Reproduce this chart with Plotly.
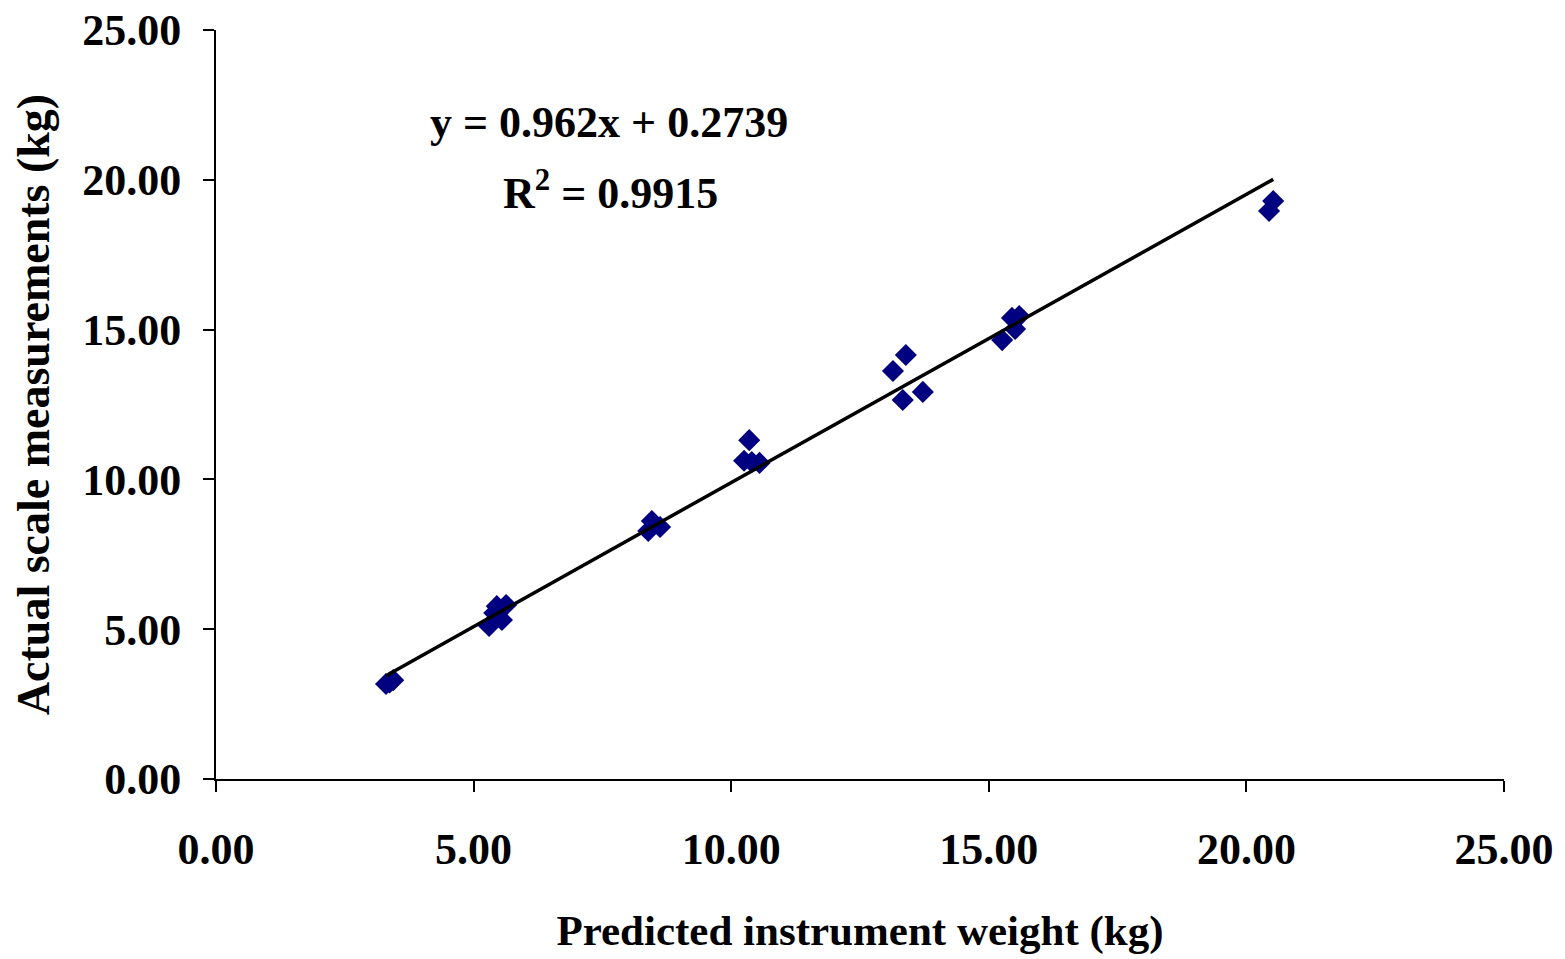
import plotly.graph_objects as go

predicted = [3.30, 3.44, 3.37,
             5.30, 5.45, 5.63, 5.55, 5.40,
             8.39, 8.46, 8.62,
             10.25, 10.35, 10.55, 10.40,
             13.39, 13.14, 13.33, 13.72,
             15.45, 15.59, 15.26, 15.51,
             20.52, 20.44]
actual = [3.17, 3.30, 3.22,
          5.11, 5.77, 5.81, 5.31, 5.54,
          8.28, 8.61, 8.41,
          10.62, 11.31, 10.55, 10.58,
          14.15, 13.62, 12.65, 12.92,
          15.39, 15.45, 14.65, 15.02,
          19.29, 18.96]
slope = 0.962
intercept = 0.2739
r2 = 0.9915
fit_x = [min(predicted), max(predicted)]
fit_y = [slope * v + intercept for v in fit_x]
tick_vals = [0, 5, 10, 15, 20, 25]
tick_text = ["0.00", "5.00", "10.00", "15.00", "20.00", "25.00"]

font = "Liberation Serif"

fig = go.Figure()
fig.add_trace(go.Scatter(x=predicted, y=actual, mode="markers",
                         marker=dict(symbol="diamond", size=17, color="#000080"),
                         showlegend=False, cliponaxis=False))
fig.add_trace(go.Scatter(x=fit_x, y=fit_y, mode="lines",
                         line=dict(color="black", width=3.5), showlegend=False))

fig.add_annotation(x=0.305, y=0.877, xref="paper", yref="paper",
                   xanchor="center", yanchor="middle",
                   text="<b>y = 0.962x + 0.2739</b>", showarrow=False,
                   font=dict(family=font, size=44, color="black"))
fig.add_annotation(x=0.306, y=0.786, xref="paper", yref="paper",
                   xanchor="center", yanchor="middle",
                   text="<b>R<sup>2</sup> = 0.9915</b>", showarrow=False,
                   font=dict(family=font, size=44, color="black"))

fig.update_layout(
    width=1565, height=959,
    margin=dict(l=208, r=69, t=22, b=188),
    plot_bgcolor="white", paper_bgcolor="white",
    font=dict(family=font, size=43, color="black"),
    xaxis=dict(range=[0, 25], tickvals=tick_vals, ticktext=tick_text,
               automargin=False,
               showgrid=False, zeroline=False, showline=True, linecolor="black",
               linewidth=2, ticks="outside", ticklen=11, tickwidth=2, tickcolor="black",
               ticklabelstandoff=19, ticklabeloverflow="allow",
               tickfont=dict(family=font, size=44, color="black", weight="bold"),
               title=dict(text="<b>Predicted instrument weight (kg)</b>", standoff=42,
                          font=dict(family=font, size=43, color="black"))),
    yaxis=dict(range=[0, 25], tickvals=tick_vals, ticktext=tick_text,
               automargin=False,
               showgrid=False, zeroline=False, showline=True, linecolor="black",
               linewidth=2, ticks="outside", ticklen=11, tickwidth=2, tickcolor="black",
               ticklabelstandoff=13, ticklabeloverflow="allow",
               tickfont=dict(family=font, size=44, color="black", weight="bold"),
               title=dict(text="<b>Actual scale measurements (kg)</b>", standoff=20,
                          font=dict(family=font, size=46, color="black"))),
)

fig.write_html("out.html")
